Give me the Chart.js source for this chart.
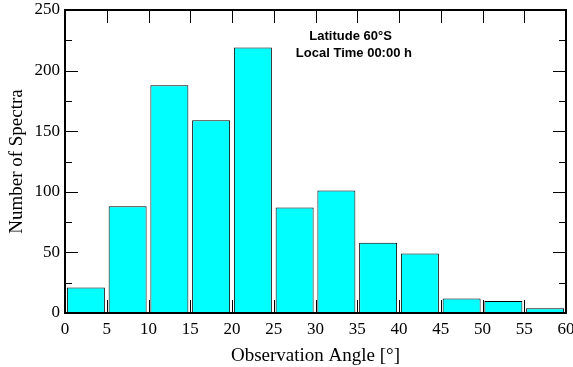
<!DOCTYPE html>
<html>
<head>
<meta charset="utf-8">
<script src="https://cdn.jsdelivr.net/npm/chart.js@4"></script>
<style>
  html, body { margin: 0; padding: 0; background: #fff; }
</style>
</head>
<body>
<canvas id="histChart" width="573" height="367"></canvas>
<script>
// histogram data (5 degree bins)
const binCenters = [2.5, 7.5, 12.5, 17.5, 22.5, 27.5, 32.5, 37.5, 42.5, 47.5, 52.5, 57.5];
const spectraCounts = [21, 88, 188, 159, 219, 87, 101, 58, 49, 12, 10, 4];
const angleTicks = [0, 5, 10, 15, 20, 25, 30, 35, 40, 45, 50, 55, 60];
const countTicks = [0, 50, 100, 150, 200, 250];
const countMinorTicks = [25, 75, 125, 175, 225];
const annotationLines = ['Latitude 60°S', 'Local Time 00:00 h'];

// inward ticks + frame, like the original plotting program
const frameTicks = {
    id: 'frameTicks',
    beforeDatasetsDraw(chart) {
        const { ctx, chartArea: a, scales: { x } } = chart;
        ctx.save();
        ctx.strokeStyle = '#000';
        ctx.lineWidth = 1;
        angleTicks.forEach(v => {
            const px = Math.round(x.getPixelForValue(v)) + 0.5;
            ctx.beginPath();
            ctx.moveTo(px, a.bottom);
            ctx.lineTo(px, a.bottom - 13);
            ctx.stroke();
        });
        ctx.restore();
    },
    afterDatasetsDraw(chart) {
        const { ctx, chartArea: a, scales: { x, y } } = chart;
        ctx.save();
        ctx.strokeStyle = '#000';
        ctx.lineWidth = 1;
        angleTicks.forEach(v => {
            const px = Math.round(x.getPixelForValue(v)) + 0.5;
            ctx.beginPath();
            ctx.moveTo(px, a.top);
            ctx.lineTo(px, a.top + 13);
            ctx.stroke();
        });
        const side = (v, len) => {
            const py = Math.round(y.getPixelForValue(v)) + 0.5;
            ctx.beginPath();
            ctx.moveTo(a.left, py);
            ctx.lineTo(a.left + len, py);
            ctx.moveTo(a.right, py);
            ctx.lineTo(a.right - len, py);
            ctx.stroke();
        };
        countTicks.forEach(v => side(v, 13));
        countMinorTicks.forEach(v => side(v, 7));

        ctx.lineWidth = 2;
        ctx.strokeRect(a.left, a.top, a.right - a.left, a.bottom - a.top);

        // label in the upper part of the plot
        ctx.fillStyle = '#000';
        ctx.font = 'bold 13px "Liberation Sans", Arial, sans-serif';
        ctx.textAlign = 'center';
        ctx.textBaseline = 'middle';
        ctx.fillText(annotationLines[0], x.getPixelForValue(34.2), y.getPixelForValue(228));
        ctx.fillText(annotationLines[1], x.getPixelForValue(34.6), y.getPixelForValue(214));
        ctx.restore();
    }
};

const ctx = document.getElementById('histChart').getContext('2d');
new Chart(ctx, {
    type: 'bar',
    data: {
        datasets: [{
            data: binCenters.map((c, i) => ({ x: c, y: spectraCounts[i] })),
            backgroundColor: '#00ffff',
            borderColor: '#000',
            borderWidth: 1,
            barPercentage: 0.91,
            categoryPercentage: 1
        }]
    },
    options: {
        responsive: false,
        animation: false,
        devicePixelRatio: 1,
        layout: { padding: { top: 10, right: 7, left: 0, bottom: 0 } },
        plugins: {
            legend: { display: false },
            tooltip: { enabled: false }
        },
        scales: {
            x: {
                type: 'linear',
                min: 0,
                max: 60,
                offset: false,
                afterBuildTicks: s => { s.ticks = angleTicks.map(v => ({ value: v })); },
                afterFit: s => { s.height = 54; s.paddingLeft = 0; s.paddingRight = 0; },
                grid: { display: false, drawTicks: false },
                border: { display: false },
                ticks: {
                    color: '#000',
                    padding: 6,
                    maxRotation: 0,
                    font: { family: '"Liberation Serif", "Times New Roman", serif', size: 17 }
                },
                title: {
                    display: true,
                    text: 'Observation Angle [°]',
                    color: '#000',
                    padding: { top: 1, bottom: 0 },
                    font: { family: '"Liberation Serif", "Times New Roman", serif', size: 19 }
                }
            },
            y: {
                min: 0,
                max: 250,
                afterBuildTicks: s => { s.ticks = countTicks.map(v => ({ value: v })); },
                afterFit: s => { s.width = 65; s.paddingTop = 0; s.paddingBottom = 0; },
                grid: { display: false, drawTicks: false },
                border: { display: false },
                ticks: {
                    color: '#000',
                    padding: 5,
                    font: { family: '"Liberation Serif", "Times New Roman", serif', size: 17 }
                },
                title: {
                    display: true,
                    text: 'Number of Spectra',
                    color: '#000',
                    padding: { top: 6, bottom: 0 },
                    font: { family: '"Liberation Serif", "Times New Roman", serif', size: 19 }
                }
            }
        }
    },
    plugins: [frameTicks]
});
</script>
</body>
</html>
